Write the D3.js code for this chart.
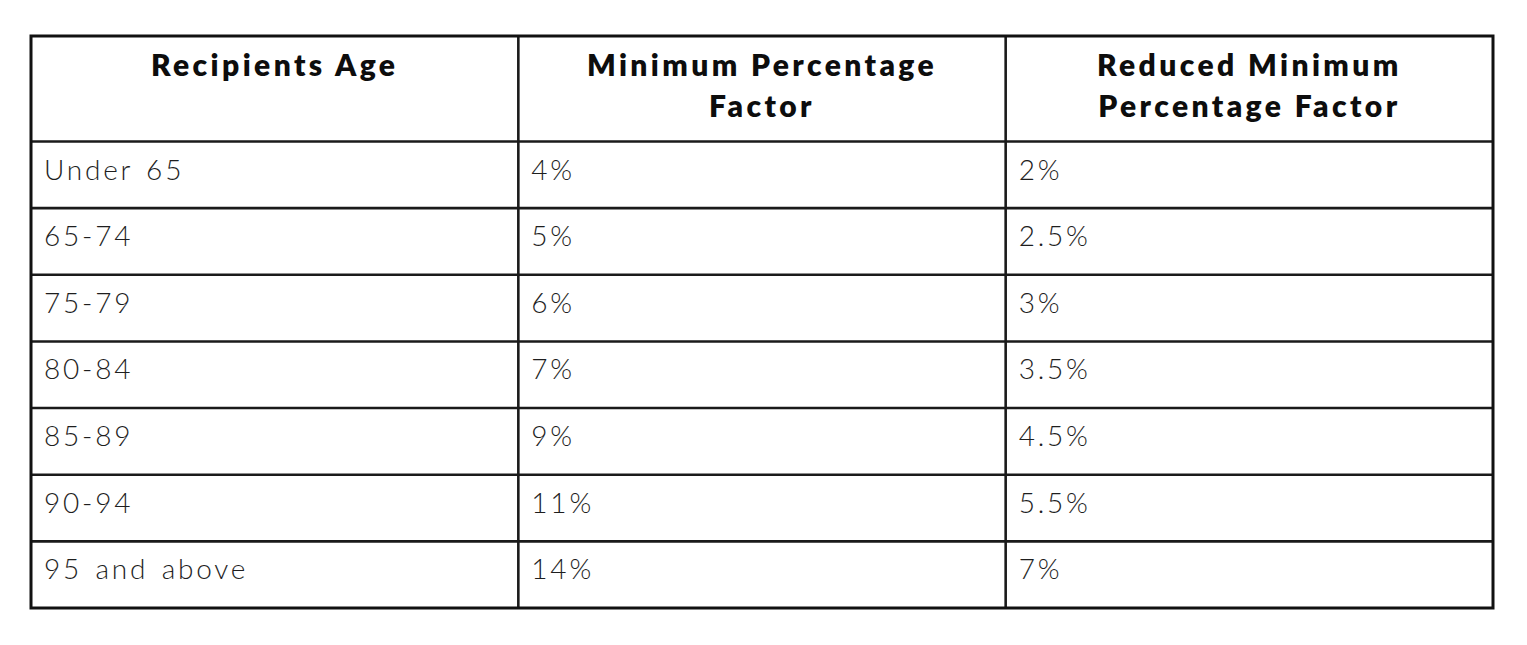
<!DOCTYPE html>
<html lang="en">
	<head>
		<meta charset="utf-8">
		<title> minimum percentage factor table </title>
		<script src="https://d3js.org/d3.v7.min.js"></script>
		<style type="text/css">
			body { margin: 0; background: #fff; }
			.head { font-family: Lato, "Noto Sans", sans-serif; font-weight: 800; font-size: 30px; letter-spacing: 3.4px; fill: #0d0d0d; }
			.cell { font-family: Lato, "Noto Sans", sans-serif; font-weight: 300; font-size: 28px; letter-spacing: 2.8px; word-spacing: 3px; fill: #1e1e1e; }
		</style>
	</head>

	<body>
		<script type="text/javascript">
			// window and other default setup
			var w = 1527
			var h = 645

			// dataset setup
			var columns = ["Recipients Age", "Minimum Percentage Factor", "Reduced Minimum Percentage Factor"]
			// header lines as they wrap in the picture
			var headerLines = [
				["Recipients Age"],
				["Minimum Percentage", "Factor"],
				["Reduced Minimum", "Percentage Factor"]
			]
			var ages = ["Under 65", "65-74", "75-79", "80-84", "85-89", "90-94", "95 and above"]
			var minFactor = [4, 5, 6, 7, 9, 11, 14]
			var reducedFactor = [2, 2.5, 3, 3.5, 4.5, 5.5, 7]

			// table frame (note: "top" is taken by window.top)
			var left = 31, right = 1493
			var tableTop = 36, headBottom = 141.5, tableBottom = 608

			var x = d3.scaleBand()
						.domain(d3.range(columns.length))
						.range([left, right])

			var y = d3.scaleBand()
						.domain(d3.range(ages.length))
						.range([headBottom, tableBottom])

			// rows as [age, min, reduced] strings
			var rows = ages.map(function(d, i) {
				return [d, minFactor[i] + "%", reducedFactor[i] + "%"]
			})

			// create SVG
			var svg = d3.select("body")
						.append("svg")
						.attr("width", w)
						.attr("height", h)

			// header text, centered in each column
			svg.selectAll("text.head")
				.data(headerLines)
				.enter()
				.append("text")
				.attr("class", "head")
				.attr("text-anchor", "middle")
				.attr("x", function(d, i) { return x(i) + x.bandwidth() / 2 })
				.attr("y", tableTop + 40)
				.selectAll("tspan")
				.data(function(d) { return d })
				.enter()
				.append("tspan")
				.attr("x", function() { return d3.select(this.parentNode).attr("x") })
				.attr("dy", function(d, i) { return i == 0 ? 0 : 41 })
				.text(function(d) { return d })

			// body rows
			var rowG = svg.selectAll("g.row")
							.data(rows)
							.enter()
							.append("g")
							.attr("class", "row")
							.attr("transform", function(d, i) { return "translate(0," + y(i) + ")" })

			rowG.selectAll("text")
				.data(function(d) { return d })
				.enter()
				.append("text")
				.attr("class", "cell")
				.attr("x", function(d, i) { return x(i) + 13 })
				.attr("y", 38)
				.text(function(d) { return d })

			// grid lines: horizontal row separators
			svg.selectAll("line.hline")
				.data(d3.range(1, ages.length))
				.enter()
				.append("line")
				.attr("class", "hline")
				.attr("x1", left)
				.attr("x2", right)
				.attr("y1", function(d) { return y(d) })
				.attr("y2", function(d) { return y(d) })
				.style("stroke", "#1a1a1a")
				.style("stroke-width", 2.6)

			// header bottom line
			svg.append("line")
				.attr("x1", left)
				.attr("x2", right)
				.attr("y1", headBottom)
				.attr("y2", headBottom)
				.style("stroke", "#1a1a1a")
				.style("stroke-width", 2.6)

			// column separators
			svg.selectAll("line.vline")
				.data(d3.range(1, columns.length))
				.enter()
				.append("line")
				.attr("class", "vline")
				.attr("x1", function(d) { return x(d) })
				.attr("x2", function(d) { return x(d) })
				.attr("y1", tableTop)
				.attr("y2", tableBottom)
				.style("stroke", "#1a1a1a")
				.style("stroke-width", 2.6)

			// outer border
			svg.append("rect")
				.attr("x", left)
				.attr("y", tableTop)
				.attr("width", right - left)
				.attr("height", tableBottom - tableTop)
				.style("fill", "none")
				.style("stroke", "#111")
				.style("stroke-width", 3)

		</script>

	</body>
</html>
